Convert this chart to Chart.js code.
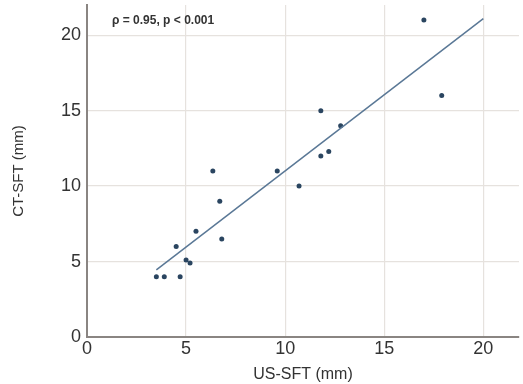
<!DOCTYPE html>
<html>
<head>
<meta charset="utf-8">
<script src="https://cdn.jsdelivr.net/npm/chart.js@4"></script>
<style>
  html, body { margin: 0; padding: 0; background: #fff; }
  #wrap { width: 523px; height: 384px; }
</style>
</head>
<body>
<div id="wrap"><canvas id="chart"></canvas></div>
<script>
// Data
const usSft = [3.5, 3.9, 4.7, 4.5, 5.0, 5.2, 5.5, 6.7, 6.8, 6.35, 9.6, 10.7, 11.8, 12.8, 11.8, 12.2, 17.0, 17.9];
const ctSft = [4.0, 4.0, 4.0, 6.0, 5.1, 4.9, 7.0, 9.0, 6.5, 11.0, 11.0, 10.0, 15.0, 14.0, 12.0, 12.3, 21.0, 16.0];
const fitX = [3.5, 20];
const fitY = [4.45, 21.1];
const xTicks = [0, 5, 10, 15, 20];
const yTicks = [0, 5, 10, 15, 20];
const statText = "\u03C1 = 0.95, p < 0.001";

const points = usSft.map((x, i) => ({ x: x, y: ctSft[i] }));
const fitLine = fitX.map((x, i) => ({ x: x, y: fitY[i] }));

const FONT = "'Liberation Sans', Arial, sans-serif";

// stat label in the top-left corner
const statLabel = {
  id: "statLabel",
  afterDraw(chart) {
    const ctx = chart.ctx;
    const a = chart.chartArea;
    ctx.save();
    ctx.font = "bold 12px " + FONT;
    ctx.fillStyle = "#333";
    ctx.textBaseline = "middle";
    ctx.fillText(statText, a.left + 25, a.top + 16);
    ctx.restore();
  }
};

new Chart(document.getElementById("chart"), {
  type: "scatter",
  data: {
    datasets: [
      {
        label: "fit",
        type: "line",
        data: fitLine,
        borderColor: "#5a7896",
        borderWidth: 1.5,
        pointRadius: 0,
        fill: false
      },
      {
        label: "cases",
        data: points,
        backgroundColor: "#2a4560",
        borderColor: "#2a4560",
        pointRadius: 2.5,
        pointBorderWidth: 0
      }
    ]
  },
  options: {
    responsive: true,
    maintainAspectRatio: false,
    animation: false,
    layout: { padding: { top: 5, right: 0, left: 0, bottom: 0 } },
    plugins: { legend: { display: false }, tooltip: { enabled: false } },
    scales: {
      x: {
        type: "linear",
        min: 0, max: 21.8,
        afterBuildTicks: s => { s.ticks = xTicks.map(v => ({ value: v })); },
        afterFit: s => { s.height = 47; s.paddingLeft = 0; s.paddingRight = 0; },
        grid: {
          color: ctx => ctx.tick && ctx.tick.value === 0 ? "rgba(0,0,0,0)" : "#e6e2de",
          lineWidth: 1.2,
          drawTicks: false
        },
        border: { color: "#8a8582", width: 2 },
        ticks: { color: "#333", font: { family: FONT, size: 18 }, padding: 1 },
        title: {
          display: true,
          text: "US-SFT (mm)",
          color: "#333",
          font: { family: FONT, size: 16 },
          padding: { top: -3, bottom: 0 }
        }
      },
      y: {
        type: "linear",
        min: 0, max: 22,
        afterBuildTicks: s => { s.ticks = yTicks.map(v => ({ value: v })); },
        afterFit: s => { s.width = 87; s.paddingTop = 0; s.paddingBottom = 0; },
        grid: {
          color: ctx => ctx.tick && ctx.tick.value === 0 ? "rgba(0,0,0,0)" : "#e6e2de",
          lineWidth: 1.2,
          drawTicks: false
        },
        border: { color: "#8a8582", width: 2 },
        ticks: { color: "#333", font: { family: FONT, size: 18 }, padding: 6 },
        title: {
          display: true,
          text: "CT-SFT (mm)",
          color: "#333",
          font: { family: FONT, size: 15 },
          padding: { top: 10, bottom: 0 }
        }
      }
    }
  },
  plugins: [statLabel]
});
</script>
</body>
</html>
